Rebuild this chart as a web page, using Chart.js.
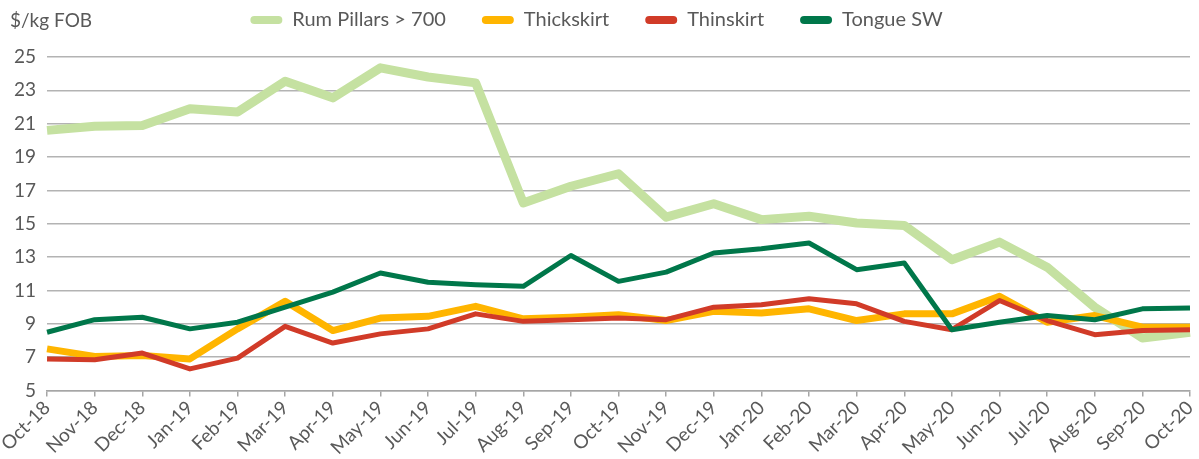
<!DOCTYPE html>
<html>
<head>
<meta charset="utf-8">
<title>Prices $/kg FOB</title>
<script src="https://cdn.jsdelivr.net/npm/chart.js@4.4.1/dist/chart.umd.min.js"></script>
<style>
  html, body { margin: 0; padding: 0; background: #fff; }
  .wrap { width: 1199px; height: 459px; position: relative; }
</style>
</head>
<body>
<div class="wrap"><canvas id="chart"></canvas></div>
<script>
const months = ['Oct-18', 'Nov-18', 'Dec-18', 'Jan-19', 'Feb-19', 'Mar-19', 'Apr-19', 'May-19', 'Jun-19',
  'Jul-19', 'Aug-19', 'Sep-19', 'Oct-19', 'Nov-19', 'Dec-19', 'Jan-20', 'Feb-20', 'Mar-20', 'Apr-20',
  'May-20', 'Jun-20', 'Jul-20', 'Aug-20', 'Sep-20', 'Oct-20'];

const rumPillars = [20.6, 20.85, 20.9, 21.9, 21.7, 23.55, 22.55, 24.35, 23.8, 23.45, 16.25, 17.25, 18.0,
  15.4, 16.2, 15.25, 15.45, 15.05, 14.9, 12.85, 13.9, 12.4, 10.0, 8.15, 8.5];
const thickskirt = [7.5, 7.05, 7.1, 6.9, 8.7, 10.35, 8.6, 9.35, 9.45, 10.05, 9.3, 9.4, 9.55,
  9.2, 9.75, 9.65, 9.9, 9.2, 9.6, 9.6, 10.65, 9.1, 9.5, 8.8, 8.8];
const thinskirt = [6.9, 6.85, 7.25, 6.3, 6.95, 8.85, 7.85, 8.4, 8.7, 9.6, 9.15, 9.25, 9.35,
  9.25, 10.0, 10.15, 10.5, 10.2, 9.15, 8.65, 10.4, 9.2, 8.35, 8.6, 8.65];
const tongueSW = [8.5, 9.25, 9.4, 8.7, 9.1, 10.0, 10.9, 12.05, 11.5, 11.35, 11.25, 13.1, 11.55,
  12.1, 13.25, 13.5, 13.85, 12.25, 12.65, 8.65, 9.1, 9.5, 9.25, 9.9, 9.95];

const textColor = '#595959';
const font = 'Lato, "Open Sans", sans-serif';

// y axis caption drawn above the tick labels
const unitLabel = {
  id: 'unitLabel',
  afterDraw(chart) {
    const ctx = chart.ctx;
    ctx.save();
    ctx.font = '19px ' + font;
    ctx.fillStyle = textColor;
    ctx.textBaseline = 'middle';
    ctx.fillText('$/kg FOB', 10, 21);
    ctx.restore();
  }
};

// legend padding is big for the gaps between items, so fix up its height
const legendGap = {
  id: 'legendGap',
  beforeInit(chart) {
    const fit = chart.legend.fit;
    chart.legend.fit = function () {
      fit.bind(chart.legend)();
      this.height += 17;
    };
  }
};

function line(label, data, color, width, order) {
  return {
    label: label,
    data: data,
    borderColor: color,
    backgroundColor: color,
    borderWidth: width,
    pointRadius: 0,
    tension: 0,
    borderJoinStyle: 'round',
    order: order
  };
}

new Chart(document.getElementById('chart'), {
  type: 'line',
  data: {
    labels: months,
    datasets: [
      line('Rum Pillars > 700', rumPillars, '#c5e1a1', 9, 4),
      line('Thickskirt', thickskirt, '#ffb500', 7, 3),
      line('Thinskirt', thinskirt, '#d13b28', 5, 2),
      line('Tongue SW', tongueSW, '#00774a', 5, 1)
    ]
  },
  options: {
    responsive: true,
    maintainAspectRatio: false,
    animation: false,
    layout: { padding: { top: -26, right: 9, left: 3, bottom: 0 } },
    plugins: {
      tooltip: { enabled: false },
      legend: {
        position: 'top',
        labels: {
          sort: (a, b) => a.datasetIndex - b.datasetIndex,
          color: textColor,
          font: { family: font, size: 20 },
          boxWidth: 32,
          boxHeight: 8,
          useBorderRadius: true,
          borderRadius: 4,
          padding: 36,
          generateLabels(chart) {
            return chart.data.datasets.map((ds, i) => ({
              text: ds.label,
              fillStyle: ds.borderColor,
              strokeStyle: ds.borderColor,
              lineWidth: 0,
              fontColor: textColor,
              hidden: false,
              datasetIndex: i,
              borderRadius: 4
            }));
          }
        }
      }
    },
    scales: {
      x: {
        offset: false,
        afterFit(axis) {
          axis.paddingRight = 0;
        },
        grid: { drawOnChartArea: false, drawTicks: true, tickLength: 6, color: '#a6a6a6', lineWidth: 1.5 },
        border: { display: true, color: '#a6a6a6', width: 1.5 },
        ticks: {
          color: textColor,
          font: { family: font, size: 19 },
          maxRotation: 45,
          minRotation: 45,
          autoSkip: false,
          padding: 0
        }
      },
      y: {
        min: 5,
        max: 25,
        grid: { color: '#b3b3b3', lineWidth: 1.5, drawTicks: false },
        border: { display: false },
        ticks: {
          stepSize: 2,
          color: textColor,
          font: { family: font, size: 19 },
          padding: 11
        }
      }
    }
  },
  plugins: [unitLabel, legendGap]
});
</script>
</body>
</html>
